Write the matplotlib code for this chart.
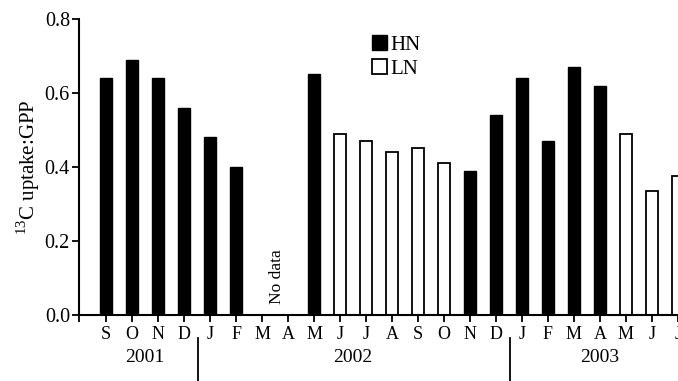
import matplotlib
matplotlib.use('Agg')
import matplotlib.pyplot as plt
from matplotlib.patches import Patch

plt.rcParams['font.family'] = ['Liberation Serif', 'DejaVu Serif']
plt.rcParams['mathtext.fontset'] = 'custom'
plt.rcParams['mathtext.rm'] = 'Liberation Serif'

# monthly data, Sep 2001 - Jul 2003
months = ['S', 'O', 'N', 'D',
          'J', 'F', 'M', 'A', 'M', 'J', 'J', 'A', 'S', 'O', 'N', 'D',
          'J', 'F', 'M', 'A', 'M', 'J', 'J']
ratio = [0.64, 0.69, 0.64, 0.56,
         0.48, 0.40, None, None, 0.65, 0.49, 0.47, 0.44, 0.45, 0.41, 0.39, 0.54,
         0.64, 0.47, 0.67, 0.62, 0.49, 0.335, 0.375]
treatment = ['HN', 'HN', 'HN', 'HN',
             'HN', 'HN', '', '', 'HN', 'LN', 'LN', 'LN', 'LN', 'LN', 'HN', 'HN',
             'HN', 'HN', 'HN', 'HN', 'LN', 'LN', 'LN']
years = ['2001', '2002', '2003']
year_first = [0, 4, 16]
year_last = [3, 15, 22]

fig = plt.figure(figsize=(6.78, 3.81), dpi=100)
ax = fig.add_axes([0.1165, 0.1732, 0.8835, 0.777])

for i, v in enumerate(ratio):
    if v is None:
        continue
    if treatment[i] == 'HN':
        ax.bar(i, v, width=0.44, color='black', edgecolor='black', linewidth=1.0)
    else:
        ax.bar(i, v, width=0.44, color='white', edgecolor='black', linewidth=1.3)

ax.text(6.58, 0.03, 'No data', rotation=90, ha='center', va='bottom', fontsize=12.5)

ax.set_xlim(-1.04, 22.0)
ax.set_ylim(0, 0.8)
ax.set_yticks([0.0, 0.2, 0.4, 0.6, 0.8])
ax.set_yticklabels(['0.0', '0.2', '0.4', '0.6', '0.8'], fontsize=14.5)
ax.set_xticks([-1.04] + list(range(len(months))))
ax.set_xticklabels([''] + months, fontsize=13)
ax.tick_params(axis='x', length=5, width=1.3, pad=3)
ax.tick_params(axis='y', length=5, width=1.3, pad=1.5)
for s in ['top', 'right']:
    ax.spines[s].set_visible(False)
ax.spines['left'].set_linewidth(1.5)
ax.spines['bottom'].set_linewidth(1.5)

ax.set_ylabel('$^{13}$C uptake:GPP', fontsize=15, labelpad=2)

# year labels and separators
for y, a, b in zip(years, year_first, year_last):
    ax.text((a + b) / 2, -0.145, y, ha='center', va='center', fontsize=14,
            transform=ax.get_xaxis_transform(), clip_on=False)
for a in year_first[1:]:
    ax.plot([a - 0.47, a - 0.47], [-0.078, -0.25], color='black', linewidth=1.3,
            transform=ax.get_xaxis_transform(), clip_on=False)

handles = [Patch(facecolor='black', edgecolor='black'),
           Patch(facecolor='white', edgecolor='black', linewidth=1.3)]
ax.legend(handles, ['HN', 'LN'], loc='upper left', bbox_to_anchor=(0.489, 0.945),
          frameon=False, fontsize=15, handlelength=0.72, handleheight=0.72,
          handletextpad=0.15, labelspacing=0.2, borderpad=0, borderaxespad=0)

fig.savefig('out.png', dpi=100)
